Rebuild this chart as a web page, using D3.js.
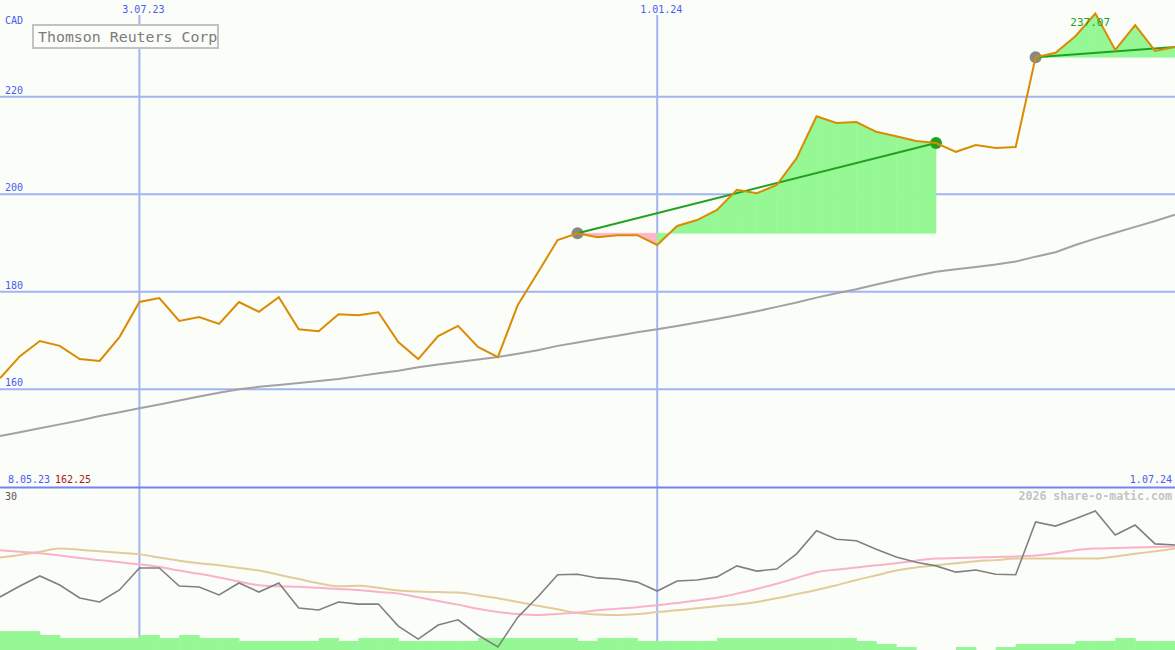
<!DOCTYPE html>
<html><head><meta charset="utf-8">
<script src="https://cdn.jsdelivr.net/npm/d3@7"></script>
<style>html,body{margin:0;padding:0;background:#fbfdf9;}svg{display:block;}</style>
</head><body><div id="chart"></div>
<script>
const W = 1175, H = 650;
// weekly dates (categories)
const weeks = ["2023-05-15","2023-05-22","2023-05-29","2023-06-05","2023-06-12","2023-06-19","2023-06-26","2023-07-03","2023-07-10","2023-07-17","2023-07-24","2023-07-31","2023-08-07","2023-08-14","2023-08-21","2023-08-28","2023-09-04","2023-09-11","2023-09-18","2023-09-25","2023-10-02","2023-10-09","2023-10-16","2023-10-23","2023-10-30","2023-11-06","2023-11-13","2023-11-20","2023-11-27","2023-12-04","2023-12-11","2023-12-18","2023-12-25","2024-01-01","2024-01-08","2024-01-15","2024-01-22","2024-01-29","2024-02-05","2024-02-12","2024-02-19","2024-02-26","2024-03-04","2024-03-11","2024-03-18","2024-03-25","2024-04-01","2024-04-08","2024-04-15","2024-04-22","2024-04-29","2024-05-06","2024-05-13","2024-05-20","2024-05-27","2024-06-03","2024-06-10","2024-06-17","2024-06-24","2024-07-01"];
// closing price (CAD)
const close = [162.25,166.8,169.9,168.9,166.2,165.8,170.7,177.9,178.7,174.0,174.8,173.4,177.9,175.9,178.9,172.3,171.9,175.4,175.2,175.8,169.7,166.2,170.9,173.0,168.7,166.6,177.3,183.9,190.6,192.0,191.2,191.6,191.6,189.6,193.5,194.7,196.8,200.9,200.2,201.9,207.4,216.0,214.6,214.8,212.8,211.9,210.9,210.5,208.7,210.1,209.5,209.7,228.1,229.0,232.4,237.07,229.6,234.7,229.4,230.2];
// long moving average
const movingAvg = [150.4,151.2,152.0,152.8,153.6,154.5,155.3,156.1,156.9,157.7,158.5,159.3,160.0,160.5,160.9,161.3,161.7,162.1,162.7,163.3,163.8,164.5,165.1,165.6,166.1,166.6,167.3,168.0,168.9,169.6,170.3,171.0,171.7,172.3,173.0,173.7,174.4,175.2,176.0,176.9,177.8,178.8,179.7,180.5,181.5,182.4,183.3,184.1,184.6,185.1,185.6,186.2,187.2,188.1,189.6,190.9,192.1,193.3,194.5,195.8];
// lower panel indicator lines (0..30)
const indicator = [9.55,11.66,13.57,11.85,9.36,8.6,10.9,15.1,15.1,11.66,11.47,9.94,12.23,10.5,12.23,7.45,7.07,8.6,8.2,8.2,4.0,1.5,4.2,5.2,2.3,0.0,5.7,9.55,13.8,13.9,13.2,13.0,12.4,10.7,12.6,12.8,13.4,15.5,14.5,14.9,17.8,22.2,20.6,20.3,18.7,17.2,16.2,15.5,14.3,14.7,13.9,13.8,23.9,23.1,24.5,26.0,21.4,23.3,19.7,19.5];
const indicatorPink = [18.5,18.2,17.9,17.5,17.0,16.6,16.2,15.8,15.3,14.6,14.0,13.3,12.5,11.8,11.6,11.5,11.3,11.1,10.9,10.5,10.2,9.5,8.8,8.1,7.3,6.7,6.3,6.1,6.3,6.6,7.0,7.3,7.6,8.0,8.4,8.9,9.4,10.2,11.1,12.1,13.2,14.3,14.8,15.2,15.6,16.0,16.5,16.9,17.0,17.1,17.2,17.3,17.5,17.9,18.5,18.8,18.9,19.0,19.1,19.2];
const indicatorTan = [17.1,17.6,18.2,18.8,18.6,18.3,18.0,17.7,17.1,16.5,16.0,15.6,15.1,14.6,13.8,13.0,12.2,11.6,11.7,11.3,10.8,10.6,10.5,10.4,9.9,9.3,8.6,7.9,7.2,6.5,6.2,6.1,6.3,6.7,7.0,7.4,7.8,8.1,8.6,9.3,10.1,10.9,11.8,12.8,13.7,14.6,15.2,15.6,16.0,16.4,16.6,16.9,16.9,16.9,16.9,16.9,17.3,17.8,18.3,18.8];
// weekly volume (relative units)
const volume = [6.3,6.3,5,4,4,4,4,5,4,5,4,4,3,3,3,3,4,3,4,4,3,3,3,3,4,4,4,4,4,3,4,4,3,3,3,3,4,4,4,4,4,4,4,3,2,1,0,0,1,0,1,2,2,2,3,3,4,3,3,3];
// trend segments (start index, end index)
const trendStart = [29, 52];
const trendEnd = [47, 59];
const priceTicks = [160, 180, 200, 220];
const dateTicks = ["2023-07-03", "2024-01-01"];
const dateTickLabels = ["3.07.23", "1.01.24"];
const title = "Thomson Reuters Corp";
const currency = "CAD";
const firstLabel = "8.05.23", firstPrice = "162.25", lastLabel = "1.07.24";

const parse = d3.timeParse("%Y-%m-%d");
const dates = weeks.map(parse);
const x = d3.scaleTime().domain([dates[0], dates[dates.length-1]]).range([0, W]);
const y = d3.scaleLinear().domain([140, 240]).range([486.8, -0.8]);
const yl = d3.scaleLinear().domain([0, 30]).range([647, 490]);
const yv = d3.scaleLinear().domain([0, 10]).range([650, 620]);

const MONO = "'DejaVu Sans Mono', monospace";
const svg = d3.select("#chart").append("svg").attr("width", W).attr("height", H)
  .style("background", "#fbfdf9");

const GRID = "#a3b3f3", AXIS = "#4a5cf0";

// horizontal grid
svg.selectAll("line.hg").data(priceTicks).join("line")
  .attr("x1", 0).attr("x2", W).attr("y1", d => y(d)).attr("y2", d => y(d))
  .attr("stroke", GRID).attr("stroke-width", 2);
// vertical grid
svg.selectAll("line.vg").data(dateTicks).join("line")
  .attr("x1", d => x(parse(d))).attr("x2", d => x(parse(d)))
  .attr("y1", 15).attr("y2", H).attr("stroke", GRID).attr("stroke-width", 2);
// separator
svg.append("line").attr("x1", 0).attr("x2", W).attr("y1", 487.5).attr("y2", 487.5)
  .attr("stroke", "#7484ee").attr("stroke-width", 2);

// labels
svg.selectAll("text.pt").data(priceTicks).join("text")
  .attr("x", 5).attr("y", d => y(d) - 3).text(d => d)
  .attr("font-family", MONO).attr("font-size", 10).attr("fill", AXIS);
svg.append("text").attr("x", 5).attr("y", 24).text(currency)
  .attr("font-family", MONO).attr("font-size", 10).attr("fill", AXIS);
svg.selectAll("text.dt").data(dateTicks).join("text")
  .attr("x", (d) => x(parse(d)) + 4).attr("y", 13).attr("text-anchor", "middle")
  .text((d, i) => dateTickLabels[i])
  .attr("font-family", MONO).attr("font-size", 10).attr("fill", AXIS);
svg.append("text").attr("x", 8).attr("y", 483).text(firstLabel)
  .attr("font-family", MONO).attr("font-size", 10).attr("fill", AXIS);
svg.append("text").attr("x", 55).attr("y", 483).text(firstPrice)
  .attr("font-family", MONO).attr("font-size", 10).attr("fill", "#a81818");
svg.append("text").attr("x", 1172).attr("y", 483).attr("text-anchor", "end").text(lastLabel)
  .attr("font-family", MONO).attr("font-size", 10).attr("fill", AXIS);
svg.append("text").attr("x", 1172).attr("y", 500).attr("text-anchor", "end").text("2026 share-o-matic.com")
  .attr("font-family", MONO).attr("font-size", 11.6).attr("font-weight", "bold").attr("fill", "#c4c4c4");
svg.append("text").attr("x", 5).attr("y", 499.5).text("30")
  .attr("font-family", MONO).attr("font-size", 10).attr("fill", "#555");
svg.append("text").attr("x", 5).attr("y", 645.5).text("0")
  .attr("font-family", MONO).attr("font-size", 10).attr("fill", "#555");

// title box
svg.append("rect").attr("x", 33).attr("y", 25).attr("width", 185).attr("height", 23)
  .attr("fill", "#fbfdf9").attr("stroke", "#c2c2c2").attr("stroke-width", 2);
svg.append("text").attr("x", 38).attr("y", 42).text(title)
  .attr("font-family", MONO).attr("font-size", 14.9).attr("fill", "#7c7c7c");

// volume bars
const week = 7 * 24 * 3600 * 1000;
svg.selectAll("rect.vol").data(volume).join("rect")
  .attr("x", (d, i) => x(dates[i]))
  .attr("width", (d, i) => x(new Date(+dates[i] + week)) - x(dates[i]) + 0.5)
  .attr("y", d => yv(d)).attr("height", d => yv(0) - yv(d))
  .attr("fill", "#95f895");

// trend fills
trendStart.forEach((s, k) => {
  const e = trendEnd[k];
  const base = close[s];
  for (let i = s; i < e; i++) {
    const pts = [[x(dates[i]), y(base)], [x(dates[i]), y(close[i])], [x(dates[i+1]), y(close[i+1])], [x(dates[i+1]), y(base)]];
    svg.append("path").attr("d", d3.line()(pts) + "Z")
      .attr("fill", close[i+1] >= base ? "#95f895" : "#ffb4c8")
      .attr("stroke", close[i+1] >= base ? "#95f895" : "#ffb4c8").attr("stroke-width", 0.6);
  }
});

// moving average
const line = (arr, yy) => d3.line().x((d, i) => x(dates[i])).y(d => yy(d))(arr);
svg.append("path").attr("d", line(movingAvg, y)).attr("fill", "none")
  .attr("stroke", "#a2a2a2").attr("stroke-width", 2);

// lower indicator lines
svg.append("path").attr("d", d3.line().x((d, i) => x(dates[i])).y(d => yl(d)).curve(d3.curveMonotoneX)(indicatorTan))
  .attr("fill", "none").attr("stroke", "#e2cc9c").attr("stroke-width", 2);
svg.append("path").attr("d", d3.line().x((d, i) => x(dates[i])).y(d => yl(d)).curve(d3.curveMonotoneX)(indicatorPink))
  .attr("fill", "none").attr("stroke", "#f9b2c8").attr("stroke-width", 2);
svg.append("path").attr("d", line(indicator, yl)).attr("fill", "none")
  .attr("stroke", "#808080").attr("stroke-width", 1.6);

// circles
trendStart.forEach((s, k) => {
  svg.append("circle").attr("cx", x(dates[s])).attr("cy", y(close[s])).attr("r", 6).attr("fill", "#888");
  const e = trendEnd[k];
  if (e < close.length - 1)
    svg.append("circle").attr("cx", x(dates[e])).attr("cy", y(close[e])).attr("r", 6).attr("fill", "#22a022");
});
// trend lines
trendStart.forEach((s, k) => {
  const e = trendEnd[k];
  svg.append("line").attr("x1", x(dates[s])).attr("y1", y(close[s]))
    .attr("x2", x(dates[e])).attr("y2", y(close[e]))
    .attr("stroke", "#22a022").attr("stroke-width", 2);
});

// price line
svg.append("path").attr("d", line(close, y)).attr("fill", "none")
  .attr("stroke", "#db8b00").attr("stroke-width", 2);

// max label
const iMax = d3.maxIndex(close);
svg.append("text").attr("x", x(dates[iMax]) - 25).attr("y", y(close[iMax]) + 13)
  .text(d3.format(".2f")(close[iMax]))
  .attr("font-family", MONO).attr("font-size", 11).attr("fill", "#22a022");
</script></body></html>
